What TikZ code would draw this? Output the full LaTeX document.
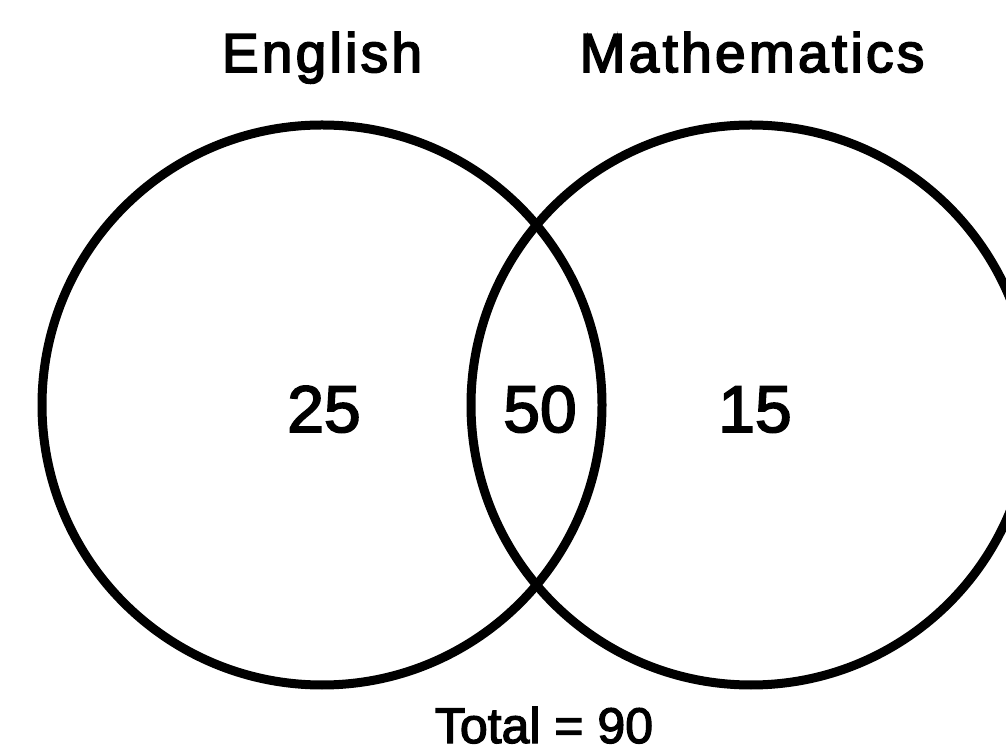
\documentclass[tikz,border=0pt]{standalone}
\usepackage{fontspec}
\setmainfont{Liberation Sans}
\newfontfamily\titlefont[LetterSpace=6,FakeBold=3.2]{Liberation Sans}
\newfontfamily\heavyfont[FakeBold=2.6]{Liberation Sans}
\begin{document}
\begin{tikzpicture}[x=1pt,y=1pt,
  setc/.style={draw=black,line width=9pt,circle,minimum size=560pt,inner sep=0pt},
  title/.style={anchor=base,font=\titlefont\fontsize{55}{60}\selectfont},
  num/.style={anchor=base,font=\heavyfont\fontsize{66}{70}\selectfont},
  tot/.style={anchor=base,font=\heavyfont\fontsize{50}{60}\selectfont}]
\useasboundingbox (0,0) rectangle (1006,755);
\clip (0,0) rectangle (1006,755);
\node[setc] (E) at (322,350) {};
\node[setc] (M) at (751,350) {};
\node[title] (tE) at (322,683) {English};
\node[title] (tM) at (752,683) {Mathematics};
\node[num] (n25) at (324,323) {25};
\node[num] (n50) at (540,323) {50};
\node[num] (n15) at (755,323) {15};
\node[tot] (tot) at (544,12) {Total = 90};
\end{tikzpicture}
\end{document}
